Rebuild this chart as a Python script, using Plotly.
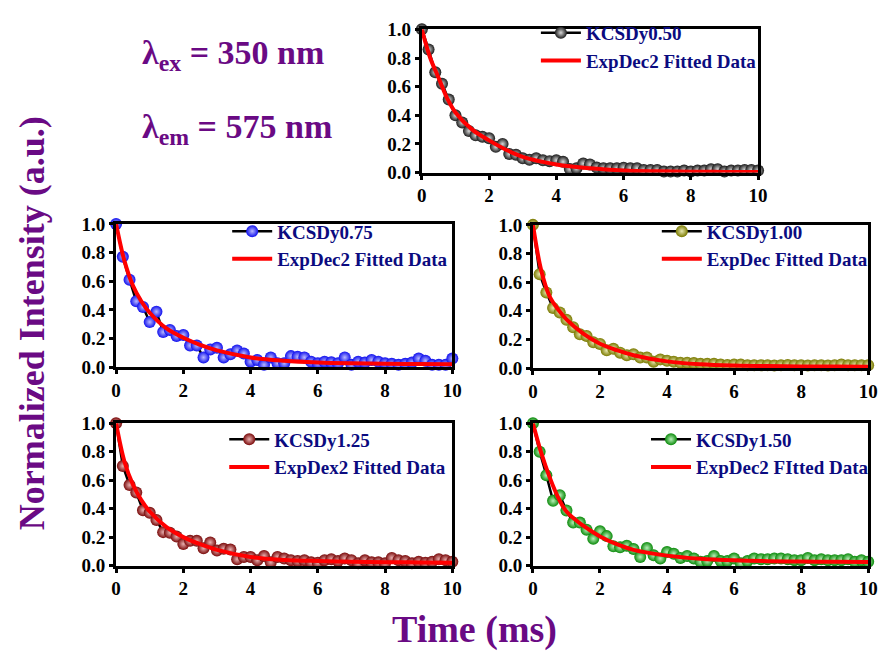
import plotly.graph_objects as go

# ---------------- data ----------------
time_ms = [0.0, 0.2, 0.4, 0.6, 0.8, 1.0, 1.2, 1.4, 1.6, 1.8,
           2.0, 2.2, 2.4, 2.6, 2.8, 3.0, 3.2, 3.4, 3.6, 3.8,
           4.0, 4.2, 4.4, 4.6, 4.8, 5.0, 5.2, 5.4, 5.6, 5.8,
           6.0, 6.2, 6.4, 6.6, 6.8, 7.0, 7.2, 7.4, 7.6, 7.8,
           8.0, 8.2, 8.4, 8.6, 8.8, 9.0, 9.2, 9.4, 9.6, 9.8, 10.0]

dy050 = [1.0, 0.86, 0.70, 0.62, 0.51, 0.40, 0.35, 0.29, 0.26, 0.25,
         0.24, 0.18, 0.20, 0.13, 0.125, 0.10, 0.09, 0.10, 0.086, 0.08,
         0.086, 0.075, 0.025, 0.03, 0.063, 0.057, 0.035, 0.03, 0.03, 0.03,
         0.034, 0.03, 0.03, 0.018, 0.018, 0.018, 0.007, 0.007, 0.007, 0.014,
         0.007, 0.014, 0.014, 0.023, 0.023, 0.007, 0.014, 0.014, 0.018, 0.018, 0.014]

dy075 = [1.0, 0.77, 0.61, 0.46, 0.42, 0.315, 0.387, 0.245, 0.26, 0.218,
         0.225, 0.151, 0.151, 0.068, 0.124, 0.135, 0.068, 0.09, 0.117, 0.095,
         0.038, 0.05, 0.016, 0.068, 0.027, 0.027, 0.077, 0.072, 0.068, 0.038,
         0.027, 0.038, 0.034, 0.027, 0.068, 0.016, 0.038, 0.032, 0.05, 0.038,
         0.027, 0.023, 0.016, 0.023, 0.032, 0.06, 0.045, 0.016, 0.016, 0.016, 0.06]

dy100 = [1.0, 0.656, 0.528, 0.42, 0.389, 0.337, 0.285, 0.236, 0.225, 0.18,
         0.169, 0.124, 0.135, 0.108, 0.09, 0.097, 0.074, 0.074, 0.045, 0.061,
         0.052, 0.045, 0.038, 0.038, 0.035, 0.03, 0.03, 0.03, 0.025, 0.022,
         0.025, 0.025, 0.02, 0.02, 0.02, 0.02, 0.018, 0.02, 0.022, 0.02,
         0.02, 0.018, 0.02, 0.02, 0.018, 0.02, 0.025, 0.02, 0.02, 0.02, 0.02]

dy125 = [1.0, 0.70, 0.566, 0.514, 0.389, 0.371, 0.321, 0.235, 0.231, 0.204,
         0.152, 0.174, 0.174, 0.122, 0.163, 0.106, 0.118, 0.113, 0.045, 0.061,
         0.061, 0.038, 0.068, 0.023, 0.061, 0.05, 0.038, 0.032, 0.038, 0.023,
         0.02, 0.038, 0.045, 0.032, 0.05, 0.038, 0.016, 0.038, 0.023, 0.023,
         0.016, 0.054, 0.038, 0.032, 0.016, 0.027, 0.02, 0.027, 0.045, 0.038, 0.027]

dy150 = [1.0, 0.80, 0.635, 0.455, 0.495, 0.387, 0.302, 0.302, 0.252, 0.189,
         0.241, 0.207, 0.135, 0.128, 0.14, 0.117, 0.061, 0.124, 0.072, 0.05,
         0.095, 0.083, 0.054, 0.068, 0.05, 0.027, 0.032, 0.068, 0.032, 0.032,
         0.05, 0.016, 0.032, 0.05, 0.045, 0.045, 0.05, 0.05, 0.045, 0.038,
         0.038, 0.054, 0.038, 0.045, 0.038, 0.038, 0.038, 0.045, 0.027, 0.038, 0.027]

fit_time = [0.0, 0.25, 0.5, 0.75, 1.0, 1.5, 2.0, 2.5, 3.0, 4.0, 5.0, 6.0, 7.0, 8.0, 9.0, 10.0]
fit050 = [1.0, 0.80, 0.66, 0.52, 0.42, 0.30, 0.225, 0.16, 0.11, 0.057, 0.03, 0.015, 0.009, 0.006, 0.005, 0.004]
fit075 = [1.0, 0.74, 0.57, 0.46, 0.38, 0.27, 0.205, 0.155, 0.117, 0.068, 0.045, 0.033, 0.027, 0.024, 0.022, 0.02]
fit100 = [1.0, 0.68, 0.50, 0.41, 0.34, 0.24, 0.17, 0.125, 0.09, 0.047, 0.027, 0.018, 0.014, 0.012, 0.011, 0.01]
fit125 = [1.0, 0.73, 0.57, 0.46, 0.38, 0.27, 0.20, 0.15, 0.11, 0.06, 0.04, 0.032, 0.027, 0.024, 0.022, 0.02]
fit150 = [1.0, 0.79, 0.62, 0.48, 0.38, 0.28, 0.205, 0.15, 0.11, 0.07, 0.048, 0.037, 0.031, 0.028, 0.026, 0.025]

sample_names = ["KCSDy0.50", "KCSDy0.75", "KCSDy1.00", "KCSDy1.25", "KCSDy1.50"]
fit_names = ["ExpDec2 Fitted Data", "ExpDec2 Fitted Data", "ExpDec Fitted Data",
             "ExpDex2 Fitted Data", "ExpDec2 FItted Data"]
sample_data = [dy050, dy075, dy100, dy125, dy150]
fit_data = [fit050, fit075, fit100, fit125, fit150]
marker_colors = ["#1a1a1a", "#1010ee", "#7a7a00", "#7a0a0a", "#0a8a0a"]
highlight_colors = ["#d8d8d8", "#b8b8ff", "#e8e8b0", "#e8b0b0", "#b8f0b8"]

x_ticks = [0, 2, 4, 6, 8, 10]
y_ticks = [0.0, 0.2, 0.4, 0.6, 0.8, 1.0]
y_tick_labels = ["0.0", "0.2", "0.4", "0.6", "0.8", "1.0"]

# ---------------- layout geometry (pixels) ----------------
W, H = 889, 654
# (left, right, top, bottom) of each plot area in pixels
panels = [(424, 766, 20, 168),
          (113, 455, 221, 369),
          (537, 878, 222, 370),
          (113, 455, 427, 574),
          (537, 878, 427, 574)]
# legend top-left anchor in pixels
legend_pos = [(540, 4), (226, 209), (663, 209), (223, 424), (652, 424)]

FONT = "Liberation Serif, Times New Roman, serif"
PURPLE = "#6a0a84"
NAVY = "#0b0b80"

fig = go.Figure()
layout = dict(
    width=W, height=H,
    margin=dict(l=0, r=0, t=0, b=0),
    paper_bgcolor="white", plot_bgcolor="white",
    font=dict(family=FONT, color="black"),
    showlegend=True,
)

for i in range(5):
    n = "" if i == 0 else str(i + 1)
    xa, ya = "x" + n, "y" + n
    lg = "legend" + n
    fig.add_trace(go.Scatter(
        x=time_ms, y=sample_data[i], name=sample_names[i],
        mode="lines+markers", xaxis=xa, yaxis=ya, legend=lg,
        line=dict(color="black", width=2.5),
        marker=dict(size=12, color=marker_colors[i],
                    gradient=dict(type="radial", color=highlight_colors[i]),
                    line=dict(width=0)),
        cliponaxis=False,
    ))
    fig.add_trace(go.Scatter(
        x=fit_time, y=fit_data[i], name=fit_names[i],
        mode="lines", xaxis=xa, yaxis=ya, legend=lg,
        line=dict(color="#ff0000", width=4, shape="spline", smoothing=1.0),
    ))
    l, r, t, b = panels[i]
    axis_common = dict(
        showline=True, mirror=True, linecolor="black", linewidth=3,
        ticks="outside", ticklen=4, tickwidth=3, tickcolor="black",
        showgrid=False, zeroline=False,
        tickfont=dict(family=FONT, size=19, color="black", weight="bold"),
    )
    layout["xaxis" + n] = dict(
        axis_common, domain=[l / W, r / W], range=[0, 10],
        tickvals=x_ticks, anchor=ya,
    )
    layout["yaxis" + n] = dict(
        axis_common, domain=[1 - b / H, 1 - t / H], range=[0, 1.0],
        tickvals=y_ticks, ticktext=y_tick_labels, anchor=xa,
    )
    lx, ly = legend_pos[i]
    layout[lg] = dict(
        x=lx / W, y=1 - ly / H, xanchor="left", yanchor="top",
        bgcolor="rgba(0,0,0,0)", borderwidth=0,
        font=dict(family=FONT, size=19, color=NAVY, weight="bold"),
        itemwidth=40, tracegroupgap=0,
    )

fig.update_layout(**layout)

annotations = [
    dict(text="λ<sub>ex</sub> = 350 nm", x=137 / W, y=1 - 46 / H,
         xanchor="left", yanchor="middle"),
    dict(text="λ<sub>em</sub> = 575 nm", x=137 / W, y=1 - 123 / H,
         xanchor="left", yanchor="middle"),
]
for a in annotations:
    fig.add_annotation(xref="paper", yref="paper", showarrow=False,
                       font=dict(family=FONT, size=34, color=PURPLE, weight="bold"),
                       **a)

fig.add_annotation(text="Normalized Intensity (a.u.)", xref="paper", yref="paper",
                   x=27 / W, y=1 - 324 / H, xanchor="center", yanchor="middle",
                   textangle=-90, showarrow=False,
                   font=dict(family=FONT, size=36, color=PURPLE, weight="bold"))
fig.add_annotation(text="Time (ms)", xref="paper", yref="paper",
                   x=478 / W, y=1 - 640 / H, xanchor="center", yanchor="middle",
                   showarrow=False,
                   font=dict(family=FONT, size=38, color=PURPLE, weight="bold"))

fig.write_html("out.html")
